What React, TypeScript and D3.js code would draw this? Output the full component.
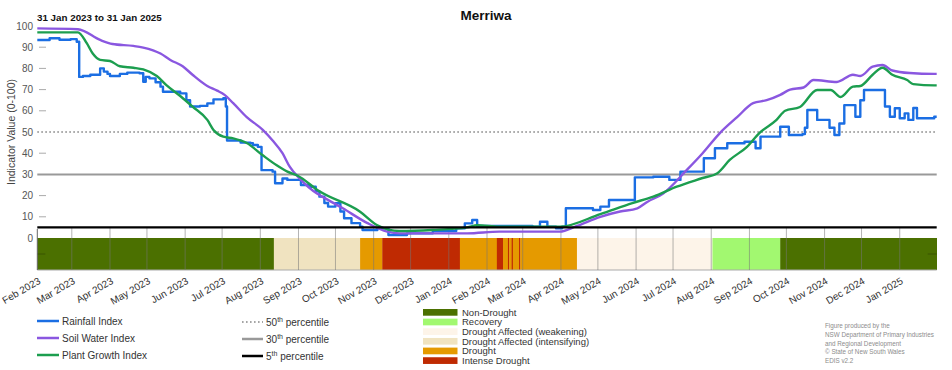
import React from "react";
import * as d3 from "d3";

// ---------- DATA ----------
const rainfallIndex: [string, number][] = [
  ["2023-02-01", 93.4], ["2023-02-11", 94.2], ["2023-02-19", 93.5], ["2023-02-28", 93.8],
  ["2023-03-05", 92.6], ["2023-03-07", 76], ["2023-03-10", 76.4], ["2023-03-16", 77],
  ["2023-03-22", 77], ["2023-03-24", 80], ["2023-03-27", 78.5], ["2023-03-30", 77.4], ["2023-04-01", 76.4],
  ["2023-04-09", 77.4], ["2023-04-15", 78], ["2023-04-25", 77.7], ["2023-04-28", 73.7],
  ["2023-04-30", 76], ["2023-05-03", 75.3], ["2023-05-08", 73.5], ["2023-05-12", 71.4], ["2023-05-14", 69], ["2023-05-28", 68.2],
  ["2023-06-02", 65], ["2023-06-05", 62], ["2023-06-13", 62.3], ["2023-06-19", 63.5],
  ["2023-06-24", 65.4], ["2023-07-02", 65.9], ["2023-07-04", 62], ["2023-07-05", 46],
  ["2023-07-16", 45], ["2023-07-24", 44.7], ["2023-07-26", 43.9], ["2023-07-30", 43],
  ["2023-08-02", 32], ["2023-08-11", 31.3], ["2023-08-13", 25.8], ["2023-08-19", 28.1],
  ["2023-08-23", 27.4], ["2023-08-31", 27.4], ["2023-09-03", 25], ["2023-09-10", 24.2],
  ["2023-09-15", 22], ["2023-09-18", 19.5], ["2023-09-22", 16.5], ["2023-09-25", 14.8], ["2023-10-01", 16.4], ["2023-10-05", 12.5], ["2023-10-08", 9.3],
  ["2023-10-14", 7], ["2023-10-21", 5.3], ["2023-10-23", 3.8], ["2023-11-04", 4.6], ["2023-11-13", 1.4],
  ["2023-11-28", 2.2], ["2023-12-19", 3.3], ["2024-01-07", 4.6], ["2024-01-14", 6.9],
  ["2024-01-20", 8.5], ["2024-01-24", 5.7], ["2024-02-11", 5.7], ["2024-03-09", 5.3],
  ["2024-03-15", 7.7], ["2024-03-21", 5.3], ["2024-03-28", 4.6], ["2024-04-02", 5.3],
  ["2024-04-05", 14], ["2024-04-27", 13.2], ["2024-05-03", 14.8], ["2024-05-10", 17.9],
  ["2024-05-31", 28.6], ["2024-06-15", 28.9], ["2024-06-28", 27.4],
  ["2024-07-07", 31.3], ["2024-07-26", 37.6], ["2024-08-04", 42.3],
  ["2024-08-14", 44.7], ["2024-08-28", 45.4], ["2024-09-06", 42.3], ["2024-09-10", 47.8],
  ["2024-09-26", 52.5], ["2024-10-03", 48.6], ["2024-10-14", 49], ["2024-10-16", 52],
  ["2024-10-18", 60.4], ["2024-10-26", 55.7], ["2024-11-05", 52],
  ["2024-11-09", 48.6], ["2024-11-13", 54], ["2024-11-17", 62.7],
  ["2024-11-26", 57.2], ["2024-11-30", 65], ["2024-12-03", 69.8],
  ["2024-12-20", 62], ["2024-12-24", 57.2], ["2024-12-28", 61.2], ["2025-01-01", 56.5],
  ["2025-01-05", 58.8], ["2025-01-08", 55.7], ["2025-01-12", 61.3], ["2025-01-15", 56.5],
  ["2025-01-29", 57.2], ["2025-01-31", 57.2],
];

const soilWaterIndex: [string, number][] = [
  ["2023-02-01", 98.9], ["2023-03-06", 98.5], ["2023-03-24", 93.4], ["2023-04-03", 91.5],
  ["2023-04-20", 90.6], ["2023-04-28", 89.8], ["2023-05-12", 87], ["2023-05-20", 84],
  ["2023-05-30", 81], ["2023-06-07", 77], ["2023-06-19", 71.7], ["2023-06-27", 69.5],
  ["2023-07-03", 67.5], ["2023-07-10", 63.6], ["2023-07-21", 57], ["2023-08-03", 51],
  ["2023-08-11", 46], ["2023-08-19", 40], ["2023-08-25", 33.5], ["2023-09-02", 28],
  ["2023-09-16", 21], ["2023-09-18", 20.3], ["2023-10-07", 14], ["2023-10-27", 7],
  ["2023-11-12", 3], ["2023-11-22", 2.2], ["2024-01-16", 2.2], ["2024-02-11", 3],
  ["2024-03-31", 3], ["2024-04-14", 5.7], ["2024-05-03", 10], ["2024-05-19", 12.5],
  ["2024-06-02", 14], ["2024-06-10", 17], ["2024-06-23", 21], ["2024-07-12", 32],
  ["2024-07-25", 40], ["2024-08-08", 49.5], ["2024-08-22", 57], ["2024-09-04", 63.6],
  ["2024-09-15", 65], ["2024-09-26", 67.5], ["2024-10-04", 70], ["2024-10-15", 71],
  ["2024-10-23", 74.5], ["2024-11-11", 73.6], ["2024-11-24", 77], ["2024-11-30", 76.4],
  ["2024-12-10", 80.8], ["2024-12-18", 81.6], ["2024-12-26", 79], ["2025-01-09", 77.8],
  ["2025-01-29", 77.4], ["2025-01-31", 77.4],
];

const plantGrowthIndex: [string, number][] = [
  ["2023-02-01", 97], ["2023-03-06", 97], ["2023-03-13", 92], ["2023-03-18", 87],
  ["2023-03-24", 84], ["2023-04-01", 83.5], ["2023-04-09", 81], ["2023-04-20", 80.3],
  ["2023-04-28", 79.5], ["2023-05-09", 76.4], ["2023-05-17", 72], ["2023-05-28", 67],
  ["2023-06-07", 62], ["2023-06-19", 55.7], ["2023-06-24", 51], ["2023-07-02", 47.8],
  ["2023-07-10", 47], ["2023-07-21", 44.8], ["2023-08-03", 39], ["2023-08-14", 34.4],
  ["2023-08-23", 31.3], ["2023-08-31", 29.5], ["2023-09-18", 22], ["2023-10-21", 12.4],
  ["2023-11-04", 6], ["2023-11-22", 3.3], ["2023-12-19", 3.8], ["2024-01-16", 5],
  ["2024-01-24", 6], ["2024-02-11", 5.3], ["2024-03-31", 5.3], ["2024-05-03", 11.3],
  ["2024-05-29", 16.5], ["2024-06-15", 19.5], ["2024-07-04", 24.2], ["2024-07-25", 28.3],
  ["2024-08-06", 30.6], ["2024-08-16", 36.8], ["2024-08-30", 43], ["2024-09-09", 49.5],
  ["2024-09-23", 55.7], ["2024-09-30", 60], ["2024-10-12", 61.8], ["2024-10-26", 69.8],
  ["2024-11-06", 69.8], ["2024-11-14", 66.5], ["2024-11-24", 71.4], ["2024-11-30", 71.7],
  ["2024-12-10", 77], ["2024-12-18", 80.3], ["2024-12-26", 77], ["2025-01-07", 74.5],
  ["2025-01-12", 72.6], ["2025-01-29", 72], ["2025-01-31", 72],
];

const droughtCategories = [
  "Non-Drought",
  "Recovery",
  "Drought Affected (weakening)",
  "Drought Affected (intensifying)",
  "Drought",
  "Intense Drought",
];
const droughtColors = ["#4b7000", "#a2f870", "#fdf4e9", "#f0e3c0", "#e59a00", "#bf2a02"];

const droughtPhases: [string, string, number][] = [
  ["2023-02-01", "2023-08-12", 0],
  ["2023-08-12", "2023-10-21", 3],
  ["2023-10-21", "2023-11-08", 4],
  ["2023-11-08", "2024-01-10", 5],
  ["2024-01-10", "2024-02-09", 4],
  ["2024-02-09", "2024-02-14", 5],
  ["2024-02-14", "2024-02-18", 4],
  ["2024-02-18", "2024-02-19", 5],
  ["2024-02-19", "2024-02-21", 4],
  ["2024-02-21", "2024-02-22", 5],
  ["2024-02-22", "2024-02-27", 4],
  ["2024-02-27", "2024-02-28", 5],
  ["2024-02-28", "2024-04-14", 4],
  ["2024-04-14", "2024-08-02", 2],
  ["2024-08-02", "2024-09-26", 1],
  ["2024-09-26", "2025-01-31", 0],
];

const yTicks = [0, 10, 20, 30, 40, 50, 60, 70, 80, 90, 100];
const percentiles = [50, 30, 5];

const seriesNames = ["Rainfall Index", "Soil Water Index", "Plant Growth Index"];
const seriesColors = ["#1b6ee3", "#8a57e0", "#1c9e4f"];

const creditLines = [
  "Figure produced by the",
  "NSW Department of Primary Industries",
  "and Regional Development",
  "\u00A9 State of New South Wales",
  "EDIS v2.2",
];

// ---------- CHART ----------
const parse = d3.timeParse("%Y-%m-%d");
const FONT = "'Liberation Sans', Arial, sans-serif";

export default function App() {
  const x = d3
    .scaleTime()
    .domain([parse("2023-02-01")!, parse("2025-01-31")!])
    .range([37.3, 936.7]);
  const y = d3.scaleLinear().domain([0, 100]).range([238, 26]);

  const stepLine = d3
    .line<[string, number]>()
    .x((d) => x(parse(d[0])!))
    .y((d) => y(d[1]))
    .curve(d3.curveStepAfter);
  const smoothLine = d3
    .line<[string, number]>()
    .x((d) => x(parse(d[0])!))
    .y((d) => y(d[1]))
    .curve(d3.curveMonotoneX);

  const series = [rainfallIndex, soilWaterIndex, plantGrowthIndex];
  const months = d3.timeMonth.range(parse("2023-02-01")!, parse("2025-01-31")!);
  const fmtMonth = d3.timeFormat("%b %Y");
  const barTop = y(0);
  const barBottom = 270;
  const [x0, x1] = x.range();

  return (
    <svg
      width={952}
      height={370}
      style={{ position: "absolute", left: 0, top: 0, background: "#fff" }}
      fontFamily={FONT}
    >
      {/* titles */}
      <text x={486} y={20} textAnchor="middle" fontSize={13.5} fontWeight="bold" fill="#111">
        Merriwa
      </text>
      <text x={37} y={21} fontSize={9.8} fontWeight="bold" fill="#111">
        31 Jan 2023 to 31 Jan 2025
      </text>

      {/* y label */}
      <text
        transform={`translate(15,${(y(0) + y(100)) / 2}) rotate(-90)`}
        textAnchor="middle"
        fontSize={10.5}
        fill="#444"
      >
        Indicator Value (0-100)
      </text>

      {/* y ticks */}
      {yTicks.map((t) => (
        <g key={t}>
          <text x={33} y={y(t) + 3.5} textAnchor="end" fontSize={10} fill="#555">
            {t}
          </text>
          {t > 0 && t < 100 && t !== 50 && t !== 30 && (
            <line x1={39} x2={46} y1={y(t)} y2={y(t)} stroke="#aaa" strokeWidth={1} />
          )}
        </g>
      ))}

      {/* drought bar */}
      {droughtPhases.map(([s, e, c], i) => (
        <rect
          key={i}
          x={x(parse(s)!)}
          y={barTop}
          width={x(parse(e)!) - x(parse(s)!) + 0.3}
          height={barBottom - barTop}
          fill={droughtColors[c]}
        />
      ))}
      <line x1={x0} x2={x1} y1={barBottom} y2={barBottom} stroke="#aaa" strokeWidth={1} />
      <line x1={x0} x2={x0 + 8} y1={254} y2={254} stroke="#3a5400" strokeWidth={1} />
      <line x1={x1 - 9} x2={x1} y1={254} y2={254} stroke="#3a5400" strokeWidth={1} />

      {/* month ticks */}
      {months.map((m, i) => (
        <line
          key={i}
          x1={x(m)}
          x2={x(m)}
          y1={i === 0 ? 229 : 228}
          y2={barBottom}
          stroke={i === 0 ? "#666" : "#777"}
          strokeOpacity={i === 0 ? 1 : 0.55}
          strokeWidth={1}
        />
      ))}
      {months.map((m, i) => (
        <text
          key={i}
          transform={`translate(${x(m) + 4},${283}) rotate(-30)`}
          textAnchor="end"
          fontSize={10}
          fill="#333"
        >
          {fmtMonth(m)}
        </text>
      ))}

      {/* percentile lines */}
      <line x1={x0} x2={x1} y1={y(50)} y2={y(50)} stroke="#888" strokeWidth={1.6} strokeDasharray="1.6,2.4" />
      <line x1={x0} x2={x1} y1={y(30)} y2={y(30)} stroke="#999" strokeWidth={2} />

      {/* series */}
      {series.map((s, i) => (
        <path
          key={i}
          d={(i === 0 ? stepLine(s) : smoothLine(s)) || ""}
          fill="none"
          stroke={seriesColors[i]}
          strokeWidth={2.4}
          strokeLinejoin="round"
        />
      ))}
      <line x1={x0} x2={x1} y1={y(5)} y2={y(5)} stroke="#000" strokeWidth={2.2} />

      {/* legend: series */}
      {seriesNames.map((n, i) => (
        <g key={n}>
          <line x1={37} x2={59} y1={321 + i * 17} y2={321 + i * 17} stroke={seriesColors[i]} strokeWidth={2.5} />
          <text x={62} y={324.5 + i * 17} fontSize={10} fill="#333">
            {n}
          </text>
        </g>
      ))}

      {/* legend: percentiles */}
      {percentiles.map((p, i) => (
        <g key={p}>
          <line
            x1={242}
            x2={263}
            y1={322 + i * 17}
            y2={322 + i * 17}
            stroke={i === 0 ? "#888" : i === 1 ? "#999" : "#000"}
            strokeWidth={i === 0 ? 1.6 : 2.5}
            strokeDasharray={i === 0 ? "1.6,2.4" : undefined}
          />
          <text x={266} y={326 + i * 17} fontSize={10} fill="#333">
            {p}
            <tspan dy={-4} fontSize={7}>
              th
            </tspan>
            <tspan dy={4} fontSize={10}>
              {" percentile"}
            </tspan>
          </text>
        </g>
      ))}

      {/* legend: drought */}
      {droughtCategories.map((c, i) => (
        <g key={c}>
          <rect x={423} y={309 + i * 9.65} width={34.5} height={6.7} fill={droughtColors[i]} />
          <text x={462} y={315.6 + i * 9.65} fontSize={9.5} fill="#333">
            {c}
          </text>
        </g>
      ))}

      {/* credits */}
      {creditLines.map((l, i) => (
        <text key={i} x={825} y={328 + i * 8.8} fontSize={6.3} fill="#8c8c8c">
          {l}
        </text>
      ))}
    </svg>
  );
}
